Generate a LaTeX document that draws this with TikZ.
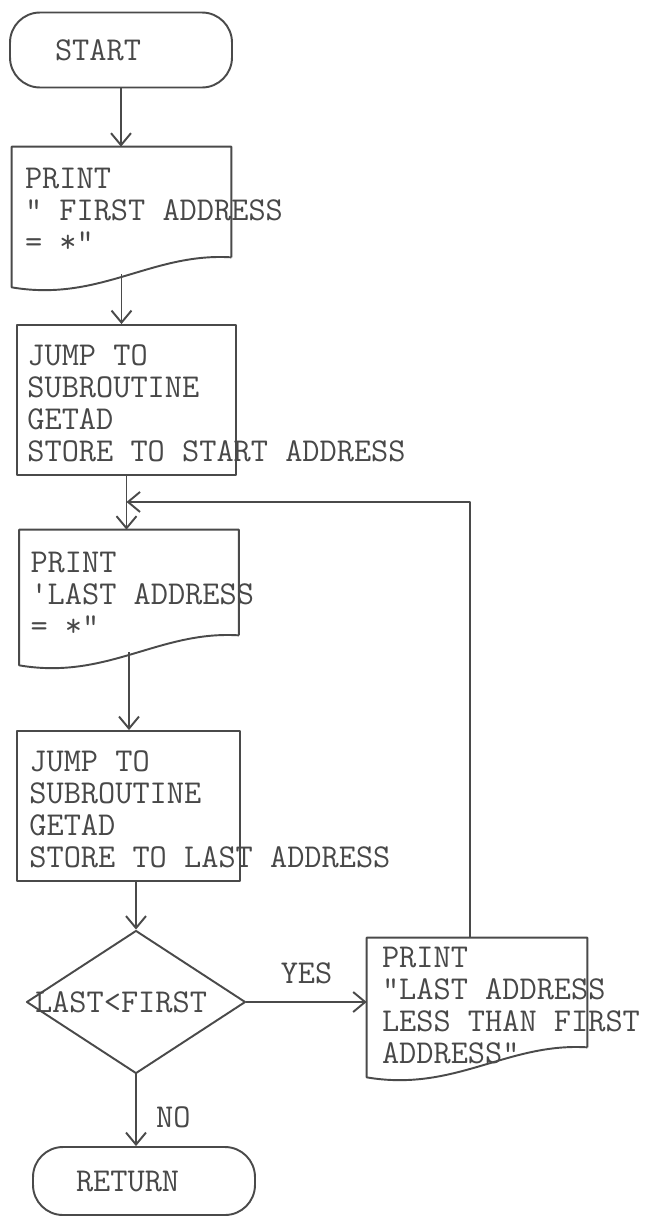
\documentclass[tikz,border=0pt]{standalone}
\usepackage{xcolor}
\usepackage{tikz}
\usetikzlibrary{positioning,arrows.meta,calc,shapes.geometric}
\definecolor{ink}{HTML}{4A4A4A}
\definecolor{typeink}{HTML}{484848}
\newcommand{\typer}{\ttfamily\fontsize{19}{18.2}\selectfont}

\begin{document}
\begin{tikzpicture}[
  x=0.02cm, y=-0.02cm,
  font=\typer, text=typeink,
  >={Straight Barb[length=2.4mm,width=4mm]},
  inkline/.style={draw=ink, line width=1.1pt, line join=round},
  ar/.style={->, inkline},
  term/.style={rectangle, inkline, rounded corners=0.6cm, minimum height=1.5cm,
               inner xsep=0.9cm, inner ysep=0pt, text width=2.64cm, align=left},
  boxf/.style={rectangle, inkline, inner sep=0, minimum width=4.38cm, minimum height=3cm},
  docf/.style={rectangle, draw=none, inner sep=0, minimum width=4.38cm},
  txt/.style={anchor=north west, align=left, inner sep=0},
  dec/.style={diamond, aspect=1.53, inkline, inner sep=0, minimum width=4.38cm, minimum height=2.86cm},
  lbl/.style={inner sep=1pt}
]
\useasboundingbox (0,0) rectangle (648,1217);

% ===== main column =====
\node[term] (start) at (121,50) {START};

\node[docf, minimum height=2.8cm] (p1) at (121.5,217) {};
\node[txt] (p1t) at ($(p1.north west)+(13,21)$) {PRINT\\" FIRST ADDRESS\\= *"};

\node[boxf] (j1) at (126.5,400) {};
\node[txt] (j1t) at ($(j1.north west)+(11,20)$)
     {JUMP TO\\SUBROUTINE\\GETAD\\STORE TO START ADDRESS};

\node[docf, minimum height=2.7cm] (p2) at (129,597.5) {};
\node[txt] (p2t) at ($(p2.north west)+(11,22)$) {PRINT\\\textquotesingle LAST ADDRESS\\= *"};

\node[boxf, minimum width=4.46cm] (j2) at (128.5,806) {};
\node[txt] (j2t) at ($(j2.north west)+(13,20)$)
     {JUMP TO\\SUBROUTINE\\GETAD\\STORE TO LAST ADDRESS};

\node[dec] (cmp) at (136,1002) {\hspace*{-0.6cm}LAST<FIRST};

\node[term, minimum height=1.36cm, inner xsep=0.86cm, text width=2.72cm] (ret) at (144,1181) {RETURN};

% ===== error branch =====
\node[docf, minimum width=4.4cm, minimum height=2.78cm] (p3) at (477,1007.5) {};
\node[txt] (p3t) at ($(p3.north west)+(15,9)$)
     {PRINT\\"LAST ADDRESS\\LESS THAN FIRST\\ADDRESS"};

% document outlines
\foreach \d in {p1,p2,p3}
  \draw[inkline] ($(\d.south east)+(0,-30)$) -- (\d.north east) -- (\d.north west)
    -- (\d.south west) .. controls +(88,15) and +(-80,-5) .. ($(\d.south east)+(0,-30)$);

% ===== connectors =====
\coordinate (merge) at ($(j1.south)+(0,26)$);
\draw[ar] (start) -- (start |- p1.north);
\draw[ar] ($(p1.south)+(0,-13)$) -- (p1.south |- j1.north);
\draw[ar] (j1) -- (j1 |- p2.north);
\draw[ar] ($(p2.south)+(0,-13)$) -- (p2.south |- j2.north);
\draw[ar] (j2.south -| cmp) -- (cmp);
\draw[ar] (cmp) -- (cmp -| p3.west) node[lbl, midway, above=0.3cm] (yes) {YES};
\draw[ar] (cmp) -- (cmp |- ret.north) node[lbl, pos=0.6, right=0.35cm] (no) {NO};
\draw[ar] ($(p3.north)+(-7,0)$) |- (merge);
\end{tikzpicture}
\end{document}
